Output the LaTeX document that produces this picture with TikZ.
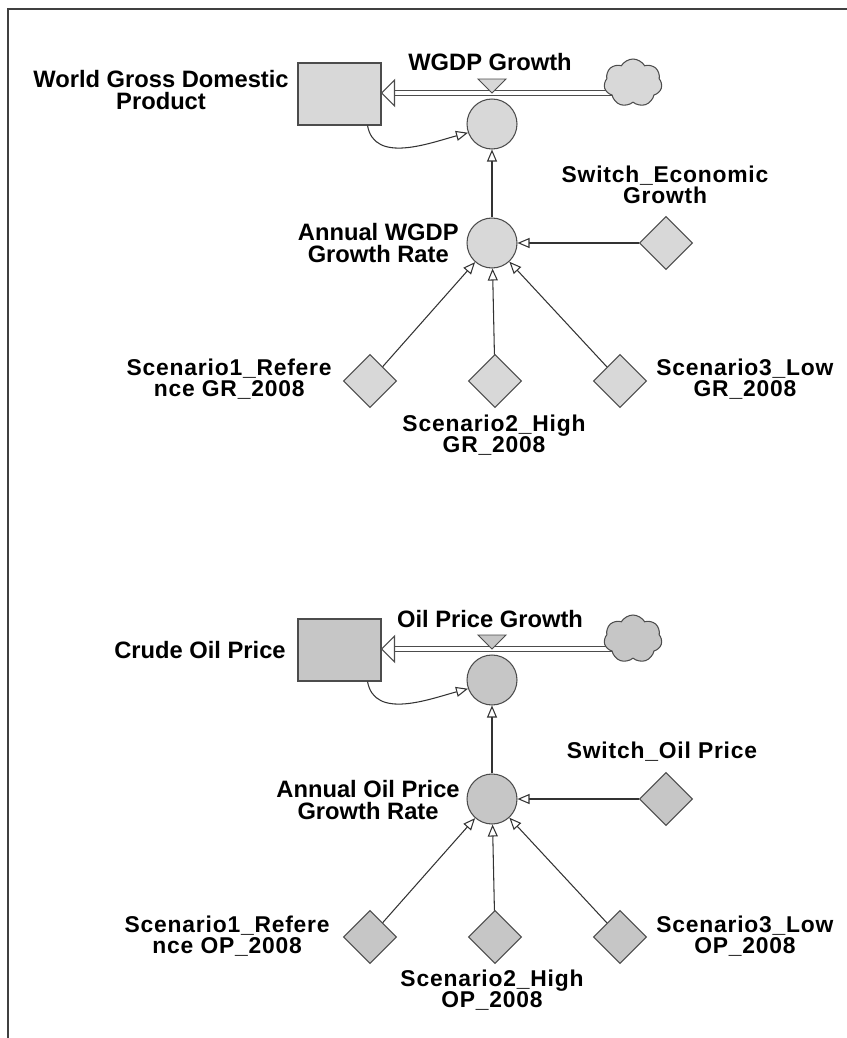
\documentclass[tikz,border=0pt]{standalone}
\usepackage{fontspec}
\setmainfont{Liberation Sans}
\newfontfamily\spacedfont[LetterSpace=3.5]{Liberation Sans}
\usetikzlibrary{arrows.meta,positioning,shapes.geometric,shapes.symbols,backgrounds}

\definecolor{edgegray}{HTML}{4C4C4C}
\definecolor{fillA}{HTML}{D8D8D8}
\definecolor{fillB}{HTML}{C6C6C6}

\tikzset{
  stock/.style={draw=edgegray, line width=0.6pt, minimum width=1.66cm, minimum height=1.24cm, inner sep=0pt},
  conv/.style={circle, draw=edgegray, line width=0.6pt, minimum size=1cm, inner sep=0pt},
  const/.style={diamond, aspect=1, draw=edgegray, line width=0.6pt, minimum size=1.06cm, inner sep=0pt},
  source/.style={cloud, cloud puffs=7, cloud puff arc=120, aspect=1.1, draw=edgegray, line width=0.6pt, minimum width=1.16cm, minimum height=0.96cm, inner sep=0pt},
  lbl/.style={font=\bfseries\fontsize{13.5}{12}\selectfont, align=center, inner sep=0pt},
  slbl/.style={font=\spacedfont\bfseries\fontsize{13}{12}\selectfont, align=center, inner sep=0pt},
  link/.style={draw=black!80, line width=0.6pt, -{Triangle[open, length=0.24cm, width=0.2cm]}},
  pipe/.style={draw=edgegray, line width=0.85pt, double=white, double distance=1.8pt},
  pipehead/.style={draw=edgegray, fill=white, line width=0.6pt},
  valve/.style={draw=edgegray, line width=0.5pt},
}

\begin{document}
\begin{tikzpicture}[x=0.02cm, y=0.02cm]
  \useasboundingbox (0,0) rectangle (846,-1038);
  \draw[line width=1.4pt, black!75] (8,-1040) -- (8,-9) -- (850,-9);

  % economic growth part
  \node[stock, fill=fillA] (stock1) at (339.5,-94) {};
  \node[conv, fill=fillA] (flow1) at (492,-124) {};
  \coordinate (v1) at (492,-93);
  \node[source, fill=fillA] (cloud1) at (633,-83) {};
  \node[conv, fill=fillA] (aux1) at (492,-243) {};
  \node[const, fill=fillA] (sw1) at (666,-243) {};
  \node[const, fill=fillA] (sc11) at (370,-381) {};
  \node[const, fill=fillA] (sc12) at (495,-381) {};
  \node[const, fill=fillA] (sc13) at (620,-381) {};

  \node[lbl, anchor=east] (lstock1) at (289,-90) {World Gross Domestic\\Product};
  \node[lbl] (lflow1) at (490,-62) {WGDP Growth};
  \node[lbl, anchor=east] (laux1) at (459,-243) {Annual WGDP\\Growth Rate};
  \node[slbl] (lsw1) at (665,-185) {Switch\_Economic\\Growth};
  \node[slbl, anchor=east] (lsc11) at (332,-379) {Scenario1\_Refere\\nce GR\_2008};
  \node[slbl] (lsc12) at (494,-435) {Scenario2\_High\\GR\_2008};
  \node[slbl, anchor=west] (lsc13) at (656,-379) {Scenario3\_Low\\GR\_2008};

  \begin{scope}[on background layer]
    \draw[pipe, shorten >=0.26cm] (v1 -| cloud1.center) -- (v1 -| stock1.east);
  \end{scope}
  \draw[pipehead] (v1 -| stock1.east) -- ++(13,13) -- ++(0,-26) -- cycle;
  \draw[valve, fill=fillA] (v1) -- ++(-14,14) -- ++(28,0) -- cycle;

  \draw[link] ([xshift=-0.28cm]stock1.south east) to[out=-80, in=195] (flow1.200);
  \draw[link] (aux1) -- (flow1);
  \draw[link] (sw1) -- (aux1);
  \draw[link] (sc11) -- (aux1);
  \draw[link] (sc12) -- (aux1);
  \draw[link] (sc13) -- (aux1);

  % oil price part
  \node[stock, fill=fillB] (stock2) at (339.5,-650) {};
  \node[conv, fill=fillB] (flow2) at (492,-680) {};
  \coordinate (v2) at (492,-649);
  \node[source, fill=fillB] (cloud2) at (633,-639) {};
  \node[conv, fill=fillB] (aux2) at (492,-799) {};
  \node[const, fill=fillB] (sw2) at (666,-799) {};
  \node[const, fill=fillB] (sc21) at (370,-937) {};
  \node[const, fill=fillB] (sc22) at (495,-937) {};
  \node[const, fill=fillB] (sc23) at (620,-937) {};

  \node[lbl, anchor=east] (lstock2) at (286,-650) {Crude Oil Price};
  \node[lbl] (lflow2) at (490,-619) {Oil Price Growth};
  \node[lbl, anchor=east] (laux2) at (460,-800) {Annual Oil Price\\Growth Rate};
  \node[slbl] (lsw2) at (662,-752) {Switch\_Oil Price};
  \node[slbl, anchor=east] (lsc21) at (330,-936) {Scenario1\_Refere\\nce OP\_2008};
  \node[slbl] (lsc22) at (492,-990) {Scenario2\_High\\OP\_2008};
  \node[slbl, anchor=west] (lsc23) at (656,-936) {Scenario3\_Low\\OP\_2008};

  \begin{scope}[on background layer]
    \draw[pipe, shorten >=0.26cm] (v2 -| cloud2.center) -- (v2 -| stock2.east);
  \end{scope}
  \draw[pipehead] (v2 -| stock2.east) -- ++(13,13) -- ++(0,-26) -- cycle;
  \draw[valve, fill=fillB] (v2) -- ++(-14,14) -- ++(28,0) -- cycle;

  \draw[link] ([xshift=-0.28cm]stock2.south east) to[out=-80, in=195] (flow2.200);
  \draw[link] (aux2) -- (flow2);
  \draw[link] (sw2) -- (aux2);
  \draw[link] (sc21) -- (aux2);
  \draw[link] (sc22) -- (aux2);
  \draw[link] (sc23) -- (aux2);
\end{tikzpicture}
\end{document}
